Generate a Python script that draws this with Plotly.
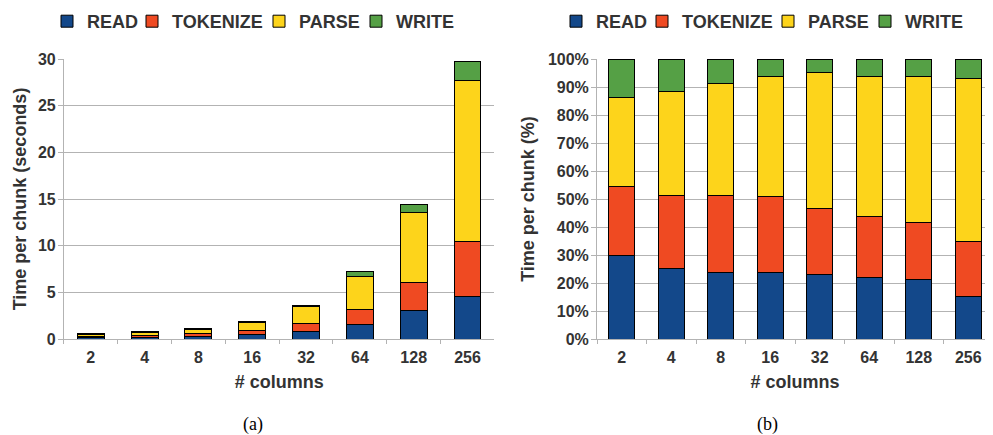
import plotly.graph_objects as go

columns = ["2", "4", "8", "16", "32", "64", "128", "256"]
series = ["READ", "TOKENIZE", "PARSE", "WRITE"]

# (a) absolute time per chunk, seconds
read_sec = [0.16, 0.19, 0.26, 0.45, 0.83, 1.57, 3.07, 4.60]
tokenize_sec = [0.13, 0.195, 0.31, 0.51, 0.85, 1.56, 3.00, 5.87]
parse_sec = [0.17, 0.28, 0.45, 0.81, 1.76, 3.57, 7.45, 17.18]
write_sec = [0.08, 0.087, 0.10, 0.12, 0.18, 0.48, 0.94, 2.10]

# (b) share of time per chunk, percent
read_pct = [29.7, 25.3, 23.6, 23.8, 23.0, 21.9, 21.1, 15.3]
tokenize_pct = [24.8, 26.0, 27.7, 27.1, 23.6, 22.0, 20.5, 19.7]
parse_pct = [31.7, 37.1, 39.8, 43.0, 48.5, 49.7, 52.0, 58.0]
write_pct = [13.8, 11.6, 8.9, 6.1, 4.9, 6.4, 6.4, 7.0]

colors = ["#13488a", "#ef4a22", "#fdd41b", "#55a045"]
FONT = "Liberation Sans"
TXT = "#333333"
GRID = "#b3b3b3"

# page body has an 8px margin: figure is laid out in a 985x427 box
W, H, OFF = 985, 427, 8
def px(x):
    return (x - OFF) / W
def py(y):
    return 1 - (y - OFF) / H

# left edge of each legend entry (page px), one legend box per entry
legend_left_a = [62, 147, 274, 371]
legend_left_b = [571, 657, 783, 880]

fig = go.Figure()
left = [read_sec, tokenize_sec, parse_sec, write_sec]
right = [read_pct, tokenize_pct, parse_pct, write_pct]
legfont = dict(family=FONT, size=18, color=TXT, weight="bold")
legends = {}
k = 0
for panel, data, xax, yax, w, lefts in [("a", left, "x", "y", 0.5, legend_left_a),
                                        ("b", right, "x2", "y2", 0.53, legend_left_b)]:
    for name, vals, col, lx in zip(series, data, colors, lefts):
        k += 1
        lid = "legend" if k == 1 else f"legend{k}"
        fig.add_trace(go.Bar(x=columns, y=vals, name=name,
                             marker=dict(color=col, line=dict(color="#000000", width=1)),
                             width=w, xaxis=xax, yaxis=yax, legend=lid, showlegend=True))
        legends[lid] = dict(orientation="h", x=px(lx - 15), xanchor="left", y=py(21.5), yanchor="middle",
                            font=legfont, itemclick=False, bgcolor="rgba(0,0,0,0)")

tickfont = dict(family=FONT, size=16, color=TXT, weight="bold")
titlefont = dict(family=FONT, size=18, color=TXT, weight="bold")
xcommon = dict(type="category", showgrid=False, showline=True, linecolor=GRID, linewidth=1,
               ticks="outside", tickson="boundaries", ticklen=4, tickcolor=GRID, automargin=False,
               ticklabelstandoff=4,
               tickfont=tickfont, title=dict(text="# columns", font=titlefont, standoff=10))
ycommon = dict(showgrid=True, gridcolor=GRID, gridwidth=1, showline=True, linecolor=GRID, linewidth=1,
               ticks="outside", ticklen=5, tickcolor=GRID, tickfont=tickfont, zeroline=False, automargin=False,
               ticklabelstandoff=-1)

ydom = [py(339), py(59)]
fig.update_layout(
    width=W, height=H,
    margin=dict(l=0, r=0, t=0, b=0, autoexpand=False),
    paper_bgcolor="white", plot_bgcolor="white",
    barmode="stack",
    showlegend=True,
    xaxis=dict(domain=[px(63.9), px(494.4)], anchor="y", **xcommon),
    yaxis=dict(domain=ydom, anchor="x", range=[0, 30], dtick=5,
               title=dict(text="Time per chunk (seconds)", font=titlefont, standoff=6), **ycommon),
    xaxis2=dict(domain=[px(597), 1.0], anchor="y2", **xcommon),
    yaxis2=dict(domain=ydom, anchor="x2", range=[0, 100], dtick=10, ticksuffix="%",
                title=dict(text="Time per chunk (%)", font=titlefont, standoff=8), **ycommon),
    annotations=[
        dict(text="(a)", x=px(253), y=py(424), xref="paper", yref="paper", showarrow=False,
             xanchor="center", yanchor="middle",
             font=dict(family="Liberation Serif", size=18, color="#000000")),
        dict(text="(b)", x=px(767), y=py(424), xref="paper", yref="paper", showarrow=False,
             xanchor="center", yanchor="middle",
             font=dict(family="Liberation Serif", size=18, color="#000000")),
    ],
    **legends,
)

fig.write_html("out.html")
